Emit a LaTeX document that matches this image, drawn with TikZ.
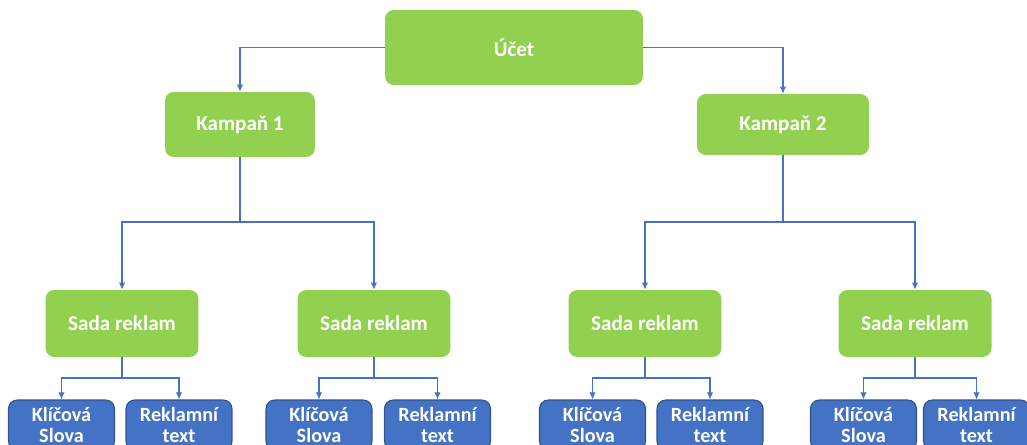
\documentclass[tikz,border=0pt]{standalone}
\usepackage{fontspec}
\setmainfont{Carlito}
\usetikzlibrary{positioning, arrows.meta}
\definecolor{boxgreen}{RGB}{146,208,80}
\definecolor{boxblue}{RGB}{68,114,196}
\definecolor{boxedge}{RGB}{47,82,143}
\tikzstyle{box}=[rectangle, rounded corners=5pt, text=white, align=center, inner sep=2pt]
\tikzstyle{level box}=[box, fill=boxgreen, font=\fontsize{12}{14}\selectfont\bfseries]
\tikzstyle{leaf box}=[box, fill=boxblue, draw=boxedge, line width=0.6pt, minimum width=2.12cm, minimum height=1.0cm, font=\fontsize{11.5}{12}\selectfont\bfseries]
\tikzstyle{link}=[draw=boxblue, line width=0.6pt, -{Latex[length=4pt,width=3.6pt]}]

\begin{document}
\begin{tikzpicture}[x=0.02cm, y=-0.02cm]
\useasboundingbox (0,0) rectangle (1027,445);
\clip (0,0) rectangle (1027,445);

% Account
\node[level box, minimum width=5.16cm, minimum height=1.5cm] (ucet) at (514,47.5) {Účet};

% Campaigns
\node[level box, minimum width=3cm, minimum height=1.3cm] (K-1) at (240,124.5) {Kampaň 1};
\node[level box, minimum width=3.44cm, minimum height=1.22cm] (K-2) at (783,124.5) {Kampaň 2};
\draw[link] (ucet.west) -| (K-1.north);
\draw[link] (ucet.east) -| (K-2.north);

% Ad sets
\foreach \name/\x in {1/122,2/374,3/645,4/915}
\node[level box, minimum width=3.06cm, minimum height=1.34cm] (S-\name) at (\x,323.5) {Sada reklam};

% Connect campaigns with their ad sets
\coordinate (J-K1) at (K-1.south |- 0,222);
\coordinate (J-K2) at (K-2.south |- 0,222);
\draw[link,-] (K-1.south) -- (J-K1);
\draw[link,-] (K-2.south) -- (J-K2);
\foreach \dest in {1,2}
\draw[link] (J-K1) -| (S-\dest.north);
\foreach \dest in {3,4}
\draw[link] (J-K2) -| (S-\dest.north);

% Keywords and ad texts under every ad set
\foreach \name/\kx/\tx in {1/61.5/179, 2/319/437.5, 3/592.5/710, 4/863.5/976.5}
{
\node[leaf box] (KW-\name) at (\kx,425) {Klíčová\\Slova};
\node[leaf box] (AT-\name) at (\tx,425) {Reklamní\\text};
\coordinate (J-\name) at (S-\name.south |- 0,378);
\draw[link,-] (S-\name.south) -- (J-\name);
\draw[link] (J-\name) -| (KW-\name.north);
\draw[link] (J-\name) -| (AT-\name.north);
}
\end{tikzpicture}
\end{document}
